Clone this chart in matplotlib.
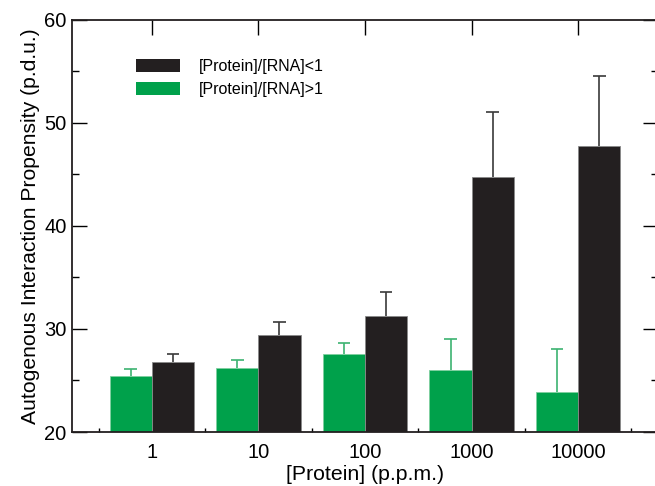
import matplotlib

matplotlib.use("Agg")
import matplotlib.pyplot as plt
from matplotlib.patches import Patch
import numpy as np

plt.rcParams["font.family"] = ["Liberation Sans", "DejaVu Sans"]

# Daten
protein_ppm = ["1", "10", "100", "1000", "10000"]
low_ratio = [26.8, 29.4, 31.3, 44.8, 47.8]  # [Protein]/[RNA]<1
low_err = [0.8, 1.3, 2.3, 6.3, 6.8]
high_ratio = [25.4, 26.2, 27.6, 26.0, 23.9]  # [Protein]/[RNA]>1
high_err = [0.7, 0.8, 1.0, 3.0, 4.2]

green = "#00a14b"
black = "#231f20"

fig = plt.figure(figsize=(6.55, 4.86), dpi=100)
ax = fig.add_axes([72 / 655, 54 / 486, 586 / 655, 412 / 486])

x = np.arange(1, len(protein_ppm) + 1)
w = 0.395
cap = 0.06


def upper_err(ax, xs, ys, errs, color):
    # nur obere Fehlerbalken
    tops = np.array(ys) + np.array(errs)
    ax.vlines(xs, ys, tops, color=color, lw=1.2, zorder=1)
    ax.hlines(tops, xs - cap, xs + cap, color=color, lw=1.2, zorder=1)


ax.bar(x - w / 2, high_ratio, w, color=green, edgecolor="#7fd0a0", linewidth=0.6, zorder=2)
ax.bar(x + w / 2, low_ratio, w, color=black, edgecolor="#8a8a8a", linewidth=0.6, zorder=2)
upper_err(ax, x - w / 2, high_ratio, high_err, "#3cb371")
upper_err(ax, x + w / 2, low_ratio, low_err, "#3a3a3a")

ax.set_xlim(0.25, 5.75)
ax.set_ylim(20, 60)

ax.set_yticks([20, 30, 40, 50, 60])
ax.set_yticks([25, 35, 45, 55], minor=True)
ax.set_xticks(x)
ax.set_xticklabels(protein_ppm)
ax.set_xticks(np.arange(0.5, 6.0, 1.0), minor=True)

ax.tick_params(axis="y", which="major", direction="in", length=11, width=1,
               labelsize=14.5, right=True, pad=4)
ax.tick_params(axis="y", which="minor", direction="in", length=5, width=1, right=True)
ax.tick_params(axis="x", which="major", direction="in", length=11, width=1,
               bottom=False, top=True, labelsize=14.5, pad=8)
ax.tick_params(axis="x", which="minor", direction="in", length=3, width=1,
               bottom=True, top=False)

for sp in ax.spines.values():
    sp.set_linewidth(1.3)
    sp.set_color("#231f20")

ax.set_xlabel("[Protein] (p.p.m.)", fontsize=15.3, labelpad=2)
ax.set_ylabel("Autogenous Interaction Propensity (p.d.u.)", fontsize=15.2, labelpad=3)

handles = [
    Patch(facecolor=black, edgecolor="none"),
    Patch(facecolor=green, edgecolor="none"),
]
ax.legend(
    handles, ["[Protein]/[RNA]<1", "[Protein]/[RNA]>1"],
    loc="upper left", bbox_to_anchor=(0.085, 0.94), frameon=False,
    fontsize=11.5, handlelength=2.75, handleheight=0.85, handletextpad=1.2,
    labelspacing=0.5,
)

fig.savefig("out.png", dpi=100)
